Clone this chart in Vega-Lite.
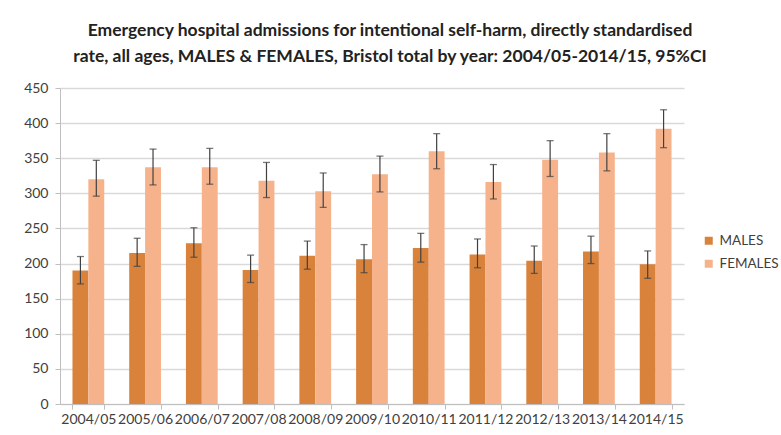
{
  "$schema": "https://vega.github.io/schema/vega-lite/v6.json",
  "autosize": {"type": "none"},
  "width": 624,
  "height": 316,
  "padding": {"left": 60, "top": 88, "right": 97, "bottom": 31},
  "background": "white",
  "title": {
    "text": ["Emergency hospital admissions  for intentional self-harm, directly standardised", "rate, all ages, MALES & FEMALES, Bristol total by year: 2004/05-2014/15, 95%CI"],
    "font": "Lato",
    "fontSize": 17.5,
    "fontWeight": "bold",
    "color": "#222222",
    "lineHeight": 26,
    "anchor": "middle",
    "dx": 18,
    "offset": 16
  },
  "data": {
    "values": [
      {"year": "2004/05", "sex": "MALES", "value": 190, "lo": 171, "hi": 210},
      {"year": "2005/06", "sex": "MALES", "value": 215, "lo": 196, "hi": 236},
      {"year": "2006/07", "sex": "MALES", "value": 229, "lo": 209, "hi": 251},
      {"year": "2007/08", "sex": "MALES", "value": 191, "lo": 173, "hi": 212},
      {"year": "2008/09", "sex": "MALES", "value": 211, "lo": 192, "hi": 232},
      {"year": "2009/10", "sex": "MALES", "value": 206, "lo": 187, "hi": 227},
      {"year": "2010/11", "sex": "MALES", "value": 222, "lo": 202, "hi": 243},
      {"year": "2011/12", "sex": "MALES", "value": 213, "lo": 194, "hi": 235},
      {"year": "2012/13", "sex": "MALES", "value": 204, "lo": 186, "hi": 225},
      {"year": "2013/14", "sex": "MALES", "value": 217, "lo": 200, "hi": 239},
      {"year": "2014/15", "sex": "MALES", "value": 199, "lo": 179, "hi": 218},
      {"year": "2004/05", "sex": "FEMALES", "value": 320, "lo": 296, "hi": 347},
      {"year": "2005/06", "sex": "FEMALES", "value": 337, "lo": 312, "hi": 363},
      {"year": "2006/07", "sex": "FEMALES", "value": 337, "lo": 313, "hi": 364},
      {"year": "2007/08", "sex": "FEMALES", "value": 318, "lo": 294, "hi": 344},
      {"year": "2008/09", "sex": "FEMALES", "value": 303, "lo": 280, "hi": 329},
      {"year": "2009/10", "sex": "FEMALES", "value": 327, "lo": 302, "hi": 353},
      {"year": "2010/11", "sex": "FEMALES", "value": 360, "lo": 335, "hi": 385},
      {"year": "2011/12", "sex": "FEMALES", "value": 316, "lo": 292, "hi": 341},
      {"year": "2012/13", "sex": "FEMALES", "value": 348, "lo": 324, "hi": 375},
      {"year": "2013/14", "sex": "FEMALES", "value": 358, "lo": 332, "hi": 385},
      {"year": "2014/15", "sex": "FEMALES", "value": 392, "lo": 365, "hi": 419}
    ]
  },
  "encoding": {
    "x": {
      "field": "year", "type": "nominal", "sort": null,
      "scale": {"paddingInner": 0.44, "paddingOuter": 0.22},
      "axis": {
        "title": null, "labelAngle": 0, "labelFont": "Lato", "labelFontSize": 14,
        "labelColor": "#404040", "labelPadding": 3, "labelOverlap": false, "domainColor": "#bfbfbf",
        "tickColor": "#bfbfbf", "tickBand": "extent", "tickSize": 5, "grid": false
      }
    },
    "xOffset": {"field": "sex", "type": "nominal", "sort": ["MALES", "FEMALES"], "scale": {"paddingInner": 0, "paddingOuter": 0}}
  },
  "layer": [
    {
      "mark": {"type": "bar"},
      "encoding": {
        "y": {
          "field": "value", "type": "quantitative",
          "scale": {"domain": [0, 450], "nice": false},
          "title": null
        },
        "color": {
          "field": "sex", "type": "nominal", "sort": ["MALES", "FEMALES"],
          "scale": {"domain": ["MALES", "FEMALES"], "range": ["#D9823B", "#F6B38B"]},
          "legend": {
            "title": null, "orient": "none", "legendX": 642, "legendY": 146,
            "symbolType": "square", "symbolSize": 64, "symbolStrokeWidth": 0,
            "labelFont": "Lato", "labelFontSize": 13.5, "labelColor": "#404040",
            "rowPadding": 8, "labelOffset": 4
          }
        }
      }
    },
    {
      "mark": {"type": "rule", "color": "#404040", "strokeWidth": 1.2},
      "encoding": {
        "y": {"field": "lo", "type": "quantitative", "title": null},
        "y2": {"field": "hi"}
      }
    },
    {
      "mark": {"type": "tick", "color": "#404040", "thickness": 1.3, "size": 7},
      "encoding": {"y": {"field": "lo", "type": "quantitative", "title": null}}
    },
    {
      "mark": {"type": "tick", "color": "#404040", "thickness": 1.3, "size": 7},
      "encoding": {"y": {"field": "hi", "type": "quantitative", "title": null}}
    }
  ],
  "config": {
    "view": {"stroke": null},
    "axisY": {
      "tickCount": 9, "labelOverlap": false,
      "labelFont": "Lato", "labelFontSize": 14, "labelColor": "#404040",
      "labelPadding": 7, "domainColor": "#bfbfbf", "tickColor": "#bfbfbf", "tickSize": 5,
      "gridColor": "#d9d9d9", "gridWidth": 1.5
    }
  }
}
